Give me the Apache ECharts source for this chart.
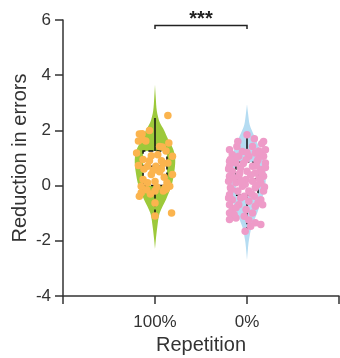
<!DOCTYPE html>
<html>
<head>
<meta charset="utf-8">
<script src="https://cdn.jsdelivr.net/npm/echarts@6/dist/echarts.min.js"></script>
<style>
  html, body { margin: 0; padding: 0; background: #fff; }
  #chart { width: 340px; height: 358px; }
</style>
</head>
<body>
<div id="chart"></div>
<script>
// groups on the x axis (value axis, group i sits at x = i + 1)
const groups = ['100%', '0%'];
const yTicks = [-4, -2, 0, 2, 4, 6];

// violin outlines: [y, half width in x units]
const violin100 = [[-2.3, 0], [-2.0, 0.008], [-1.5, 0.025], [-1.0, 0.05], [-0.5, 0.12], [0, 0.18],
  [0.5, 0.21], [0.95, 0.22], [1.3, 0.2], [1.7, 0.14], [2.0, 0.1], [2.3, 0.05], [2.7, 0.02], [3.2, 0.008], [3.65, 0]];
const violin0 = [[-2.7, 0], [-2.3, 0.01], [-2.0, 0.02], [-1.5, 0.05], [-1.0, 0.11], [-0.5, 0.16], [0, 0.2],
  [0.5, 0.2], [1.0, 0.17], [1.4, 0.13], [1.8, 0.08], [2.2, 0.03], [2.6, 0.012], [2.95, 0]];

// box stats: [low, q1, median, q3, high]
const box100 = [-1.1, 0, 0.7, 1.25, 2.45];
const box0 = [-1.6, -0.35, 0.25, 0.85, 1.75];

// individual points: [x offset from group centre, value]
const points100 = [
  [0.14, 2.54], [-0.17, 1.87], [-0.14, 1.88], [-0.06, 2.0], [-0.18, 1.62], [-0.1, 1.62], [-0.14, 1.68],
  [0.05, 1.42], [0.15, 1.54], [0.08, 1.4], [-0.2, 1.18], [-0.04, 1.08], [0.19, 1.06], [0.03, 1.12],
  [0.12, 1.25], [-0.13, 0.95], [-0.06, 0.9], [0.07, 0.9], [0.14, 0.82], [-0.18, 0.73], [-0.08, 0.7],
  [0.01, 0.7], [0.09, 0.8], [-0.02, 0.55], [0.19, 0.4], [-0.12, 0.6], [0.05, 0.5], [-0.04, 0.4],
  [-0.13, 0.22], [0.1, 0.3], [0.0, 0.15], [0.13, 0.1], [-0.08, 0.1], [-0.15, -0.02], [0.02, -0.05],
  [0.11, -0.08], [0.16, -0.02], [-0.15, -0.26], [-0.17, -0.39], [-0.09, -0.15], [0.0, -0.2],
  [0.09, -0.2], [0.12, -0.13], [0.0, -0.63], [0.0, -1.1], [0.18, -0.99], [-0.05, -0.3], [0.07, 0.6]
];
const points0 = [
  [0, 1.84], [0.18, 1.6], [0.16, 1.52], [-0.11, 1.42], [0.06, 1.42], [-0.19, 1.3], [-0.05, 1.24],
  [0.09, 1.18], [-0.16, 1.12], [0.15, 1.12], [-0.09, 1.06], [0.02, 1.06], [0.18, 1.06], [-0.19, 0.88],
  [-0.01, 0.94], [0.11, 0.88], [-0.12, 0.82], [0.2, 0.82], [-0.19, 0.7], [0.06, 0.7], [-0.07, 0.64],
  [0.15, 0.58], [-0.16, 0.52], [0, 0.52], [0.09, 0.46], [-0.19, 0.34], [-0.09, 0.34], [0.18, 0.34],
  [-0.01, 0.22], [0.06, 0.16], [-0.2, 0.16], [-0.12, 0.1], [0.15, 0.1], [-0.05, -0.02], [0.09, -0.08],
  [-0.18, -0.08], [0.02, -0.2], [-0.1, -0.2], [0.18, -0.2], [-0.19, -0.33], [-0.03, -0.39], [0.08, -0.39],
  [-0.16, -0.51], [0.15, -0.51], [0.02, -0.57], [-0.19, -0.69], [-0.09, -0.69], [0.17, -0.69],
  [-0.16, -0.87], [-0.01, -0.87], [-0.19, -0.99], [0.06, -0.99], [-0.12, -1.17], [-0.19, -1.23],
  [-0.03, -1.11], [0.09, -1.35], [0.15, -1.41], [0.04, -1.47], [-0.02, -1.65],
  [-0.14, 1.0], [0.12, 0.95], [-0.04, 0.8], [0.1, 0.72], [-0.2, 0.6], [0.2, 0.66], [-0.08, 0.45],
  [0.13, 0.25], [-0.15, 0.28], [0.04, 0.38], [-0.02, 0.05], [0.11, 0.02], [-0.17, -0.14], [0.19, -0.05],
  [0.05, -0.3], [-0.07, -0.45], [0.12, -0.62], [-0.12, -0.8], [0.2, 1.3], [-0.1, 1.6], [0.08, 1.7],
  [0.13, 1.25], [-0.18, 0.95], [0.0, 1.2], [-0.06, 0.18], [0.16, 0.45], [-0.2, -0.45], [0.09, -0.75],
  [-0.14, -1.05], [0.02, -1.25]
];

// significance bracket
const sigY = 5.8, sigTick = 0.13, sigLabel = '***';

const chart = echarts.init(document.getElementById('chart'), null, {renderer: 'canvas'});
const font = 'Liberation Sans, Arial, sans-serif';

function violinSeries(profile, centre, color) {
  return {
    type: 'custom',
    data: [[centre, 0]],
    silent: true,
    z: 1,
    renderItem: function (params, api) {
      const right = profile.map(p => api.coord([centre + p[1], p[0]]));
      const left = profile.slice().reverse().map(p => api.coord([centre - p[1], p[0]]));
      return {
        type: 'polygon',
        shape: {points: right.concat(left), smooth: 0.3},
        style: {fill: color}
      };
    }
  };
}

function boxSeries(stats, centre, hw) {
  return {
    type: 'custom',
    data: [[centre, stats[2]]],
    silent: true,
    z: 2,
    renderItem: function (params, api) {
      const [lo, q1, med, q3, hi] = stats;
      const c = (x, y) => api.coord([x, y]);
      const dashed = {stroke: '#111', lineWidth: 1.5, lineDash: [5, 3], fill: null};
      const seg = (a, b, st) => ({type: 'line', shape: {x1: a[0], y1: a[1], x2: b[0], y2: b[1]}, style: st});
      return {
        type: 'group',
        children: [
          seg(c(centre, q3), c(centre, hi), {stroke: '#111', lineWidth: 1.5}),
          seg(c(centre, q1), c(centre, lo), dashed),
          {type: 'polygon', shape: {points: [c(centre - hw, q1), c(centre + hw, q1), c(centre + hw, q3), c(centre - hw, q3)]},
            style: Object.assign({}, dashed, {fill: '#fff'})},
          seg(c(centre - hw, med), c(centre + hw, med), dashed)
        ]
      };
    }
  };
}

const option = {
  animation: false,
  grid: {left: 63, right: 1, top: 20, bottom: 62, outerBoundsMode: 'none', containLabel: false},
  xAxis: {
    type: 'value', min: 0, max: 3, interval: 1,
    name: 'Repetition', nameLocation: 'middle', nameGap: 39, nameMoveOverlap: false,
    nameTextStyle: {fontSize: 20, color: '#333', fontFamily: font},
    axisLine: {onZero: false, lineStyle: {color: '#333', width: 1.5}},
    axisTick: {length: 8, lineStyle: {color: '#333', width: 1.5}},
    axisLabel: {
      margin: 18, fontSize: 17, color: '#333', fontFamily: font,
      formatter: v => (v >= 1 && v <= groups.length ? groups[v - 1] : '')
    },
    splitLine: {show: false}
  },
  yAxis: {
    type: 'value', min: yTicks[0], max: yTicks[yTicks.length - 1], interval: 2,
    name: 'Reduction in errors', nameLocation: 'middle', nameGap: 33, nameMoveOverlap: false,
    nameTextStyle: {fontSize: 20, color: '#333', fontFamily: font},
    axisLine: {show: true, onZero: false, lineStyle: {color: '#333', width: 1.5}},
    axisTick: {show: true, length: 8, lineStyle: {color: '#333', width: 1.5}},
    axisLabel: {margin: 12, fontSize: 17, color: '#333', fontFamily: font},
    splitLine: {show: false}
  },
  series: [
    violinSeries(violin100, 1, '#9dc93a'),
    violinSeries(violin0, 2, '#b5dcf2'),
    boxSeries(box100, 1, 0.13),
    boxSeries(box0, 2, 0.12),
    {
      type: 'scatter', symbolSize: 7.5, z: 3, silent: true,
      itemStyle: {color: '#fbb44e', opacity: 1},
      data: points100.map(p => [1 + p[0], p[1]])
    },
    {
      type: 'scatter', symbolSize: 7.5, z: 3, silent: true,
      itemStyle: {color: '#ee9bc8', opacity: 1},
      data: points0.map(p => [2 + p[0], p[1]])
    },
    {
      type: 'custom', silent: true, z: 4, clip: false,
      data: [[1.5, sigY]],
      renderItem: function (params, api) {
        const a = api.coord([1, sigY - sigTick]);
        const b = api.coord([1, sigY]);
        const c = api.coord([2, sigY]);
        const d = api.coord([2, sigY - sigTick]);
        const t = api.coord([1.5, sigY]);
        return {
          type: 'group',
          children: [
            {type: 'polyline', shape: {points: [a, b, c, d]}, style: {stroke: '#222', lineWidth: 1.5, fill: null}},
            {type: 'text', x: t[0], y: t[1] - 6, style: {text: sigLabel, fill: '#222', align: 'center', verticalAlign: 'middle', font: 'bold 20px ' + font}}
          ]
        };
      }
    }
  ]
};

chart.setOption(option);
</script>
</body>
</html>
